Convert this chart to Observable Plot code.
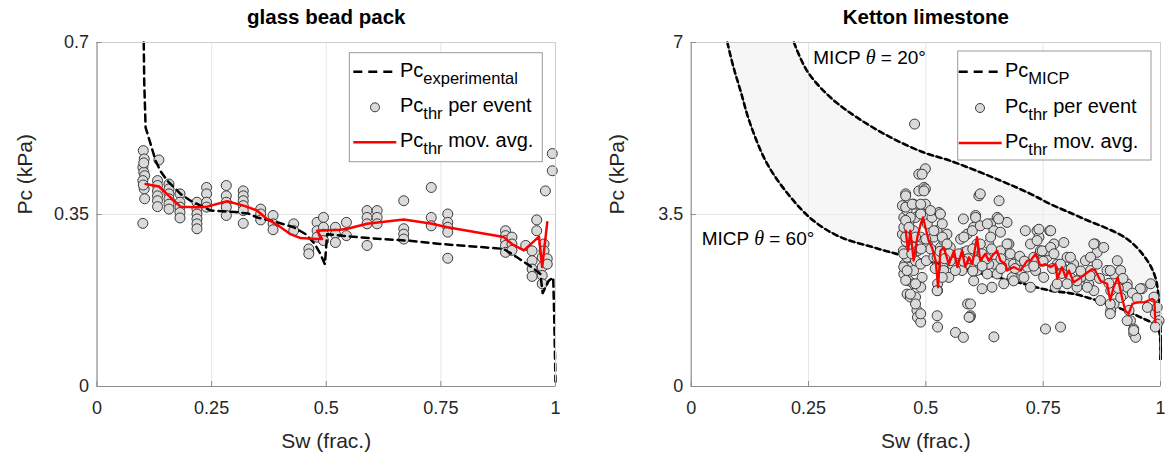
<!DOCTYPE html>
<html><head><meta charset="utf-8">
<script src="https://cdn.jsdelivr.net/npm/d3@7"></script>
<script src="https://cdn.jsdelivr.net/npm/@observablehq/plot@0.6"></script>
<style>
body{margin:0;background:#fff;width:1167px;height:459px;overflow:hidden}
#wrap{position:relative;width:1167px;height:459px}
#left{position:absolute;left:0;top:0}
#right{position:absolute;left:583px;top:0}
text{white-space:pre}
</style></head><body><div id="wrap"><div id="left"></div><div id="right"></div></div>
<script>
const FONT = "Liberation Sans, Arial, Helvetica, sans-serif";
const xTicks = [0, 0.25, 0.5, 0.75, 1];
const leftYTicks = [0, 0.35, 0.7];
const rightYTicks = [0, 3.5, 7];
const titles = ["glass bead pack", "Ketton limestone"];

// glass bead pack: experimental Pc curve
const expSw = [0.102,0.103,0.106,0.117,0.128,0.138,0.153,0.182,0.204,0.248,0.30,0.33,0.349,0.39,0.429,0.455,0.475,0.487,0.497,0.502,0.553,0.62,0.677,0.749,0.82,0.887,0.916,0.945,0.967,0.972,0.985,0.995,0.997,1.0];
const expPc = [0.70,0.62,0.527,0.493,0.459,0.439,0.419,0.392,0.378,0.358,0.355,0.352,0.344,0.335,0.324,0.310,0.29,0.27,0.249,0.31,0.305,0.300,0.297,0.290,0.285,0.280,0.263,0.245,0.229,0.19,0.215,0.222,0.15,0.01];
// glass bead pack: Pc_thr per event
const beadSw = [0.101,0.103,0.100,0.102,0.104,0.100,0.103,0.104,0.100,0.102,0.101,0.135,
 0.132,0.132,0.132,0.132,0.132,0.132, 0.157,0.157,0.157,0.157,0.157,0.157, 0.181,0.181,0.181,0.181,0.181,
 0.218,0.218,0.218,0.218,0.218,0.218, 0.239,0.239,0.239,0.239, 0.282,0.282,0.282,0.282,0.282,
 0.319,0.319,0.319,0.319,0.319,0.319, 0.357,0.357,0.357, 0.384,0.384,0.384, 0.429,0.429, 0.462,0.462,
 0.480,0.480,0.480, 0.494,0.494,0.494,0.494, 0.520,0.520,0.520, 0.544,0.544, 0.589,0.589,0.589,0.589,
 0.611,0.611,0.611, 0.669,0.669,0.669,0.669, 0.729,0.729,0.729, 0.765,0.765,0.765,0.765,0.765,
 0.891,0.891,0.891,0.891,0.891, 0.905,0.905,0.905, 0.935, 0.949,0.949,0.949,0.949, 0.959,0.959,
 0.971,0.971,0.971,0.971, 0.975,0.975, 0.982,0.982, 0.978, 0.993,0.993];
const beadPc = [0.480,0.463,0.446,0.436,0.429,0.419,0.402,0.382,0.332,0.455,0.410,0.461,
 0.419,0.409,0.398,0.388,0.378,0.366, 0.412,0.402,0.392,0.382,0.371,0.361, 0.392,0.375,0.365,0.354,0.343,
 0.375,0.361,0.351,0.341,0.331,0.321, 0.405,0.392,0.375,0.365, 0.409,0.388,0.375,0.365,0.348,
 0.398,0.388,0.378,0.368,0.358,0.332, 0.361,0.351,0.339, 0.348,0.331,0.319, 0.331,0.317, 0.280,0.270,
 0.334,0.317,0.304, 0.344,0.324,0.310,0.297, 0.324,0.310,0.293, 0.334,0.307, 0.358,0.344,0.331,0.287,
 0.358,0.344,0.331, 0.378,0.321,0.310,0.300, 0.405,0.344,0.327, 0.351,0.334,0.324,0.314,0.261,
 0.317,0.307,0.297,0.287,0.273, 0.304,0.290,0.277, 0.287, 0.276,0.256,0.239,0.224, 0.339,0.317,
 0.263,0.243,0.226,0.209, 0.290,0.276, 0.260,0.249, 0.398, 0.474,0.439];
// glass bead pack: moving average
const beadAvgSw = [0.106,0.135,0.157,0.182,0.218,0.240,0.284,0.320,0.349,0.371,0.393,0.422,0.444,0.477,0.491,0.480,0.531,0.546,0.589,0.669,0.731,0.764,0.887,0.906,0.931,0.964,0.971,0.982];
const beadAvgPc = [0.412,0.407,0.388,0.366,0.365,0.366,0.377,0.368,0.358,0.341,0.329,0.310,0.302,0.300,0.300,0.317,0.319,0.321,0.331,0.340,0.331,0.324,0.304,0.289,0.277,0.305,0.243,0.334];

// Ketton: MICP curves
const micp60Sw = [0.077,0.09,0.105,0.126,0.162,0.212,0.261,0.318,0.389,0.453,0.55,0.681,0.766,0.815,0.908,0.957,0.993,1.0,1.0];
const micp60Pc = [7.0,6.5,6.02,5.34,4.53,3.85,3.37,3.04,2.83,2.66,2.45,2.155,1.95,1.885,1.61,1.41,1.21,0.9,0.56];
const micp20Sw = [0.219,0.247,0.297,0.354,0.425,0.496,0.553,0.659,0.723,0.766,0.83,0.929,0.972,0.989,0.996,1.0,1.0];
const micp20Pc = [7.0,6.42,5.88,5.47,5.07,4.76,4.59,4.19,3.92,3.71,3.44,3.00,2.56,2.22,1.82,1.2,0.56];
// Ketton: Pc_thr per event [Sw, Pc]
const kettonEvents = [[0.450,3.68],[0.453,3.44],[0.450,3.10],[0.452,2.76],[0.455,2.49],[0.453,2.29],[0.457,3.92],[0.460,3.58],[0.464,3.34],[0.460,3.17],[0.464,2.90],[0.460,2.63],[0.467,2.43],[0.464,2.15],[0.460,1.88],[0.467,1.82],[0.474,3.71],[0.478,3.44],[0.474,3.17],[0.474,2.83],[0.478,2.56],[0.474,2.36],[0.474,2.09],[0.478,1.82],[0.481,1.55],[0.482,1.41],[0.476,5.34],[0.485,4.32],[0.499,4.43],[0.485,3.98],[0.496,4.05],[0.489,3.54],[0.489,3.04],[0.489,2.49],[0.492,2.22],[0.489,2.02],[0.489,1.31],[0.499,3.71],[0.503,3.31],[0.503,2.90],[0.501,2.56],[0.513,3.44],[0.517,3.04],[0.517,2.63],[0.525,2.09],[0.525,1.95],[0.524,1.44],[0.525,1.21],[0.528,3.54],[0.524,3.17],[0.531,2.83],[0.535,3.31],[0.538,2.97],[0.542,2.49],[0.538,2.36],[0.545,3.10],[0.552,2.83],[0.556,2.49],[0.549,2.22],[0.560,2.63],[0.580,3.41],[0.574,3.00],[0.588,3.10],[0.581,2.73],[0.584,2.49],[0.577,2.36],[0.589,1.68],[0.595,1.44],[0.594,1.41],[0.563,1.10],[0.580,1.00],[0.645,1.01],[0.606,3.48],[0.613,3.88],[0.616,3.92],[0.602,3.24],[0.609,2.90],[0.616,2.63],[0.609,2.36],[0.602,2.15],[0.638,3.31],[0.656,3.78],[0.652,3.44],[0.645,3.17],[0.634,2.90],[0.659,2.76],[0.645,2.49],[0.631,2.29],[0.641,2.02],[0.620,1.99],[0.673,3.34],[0.677,2.90],[0.670,2.49],[0.684,2.22],[0.695,2.56],[0.702,2.36],[0.709,2.22],[0.687,2.49],[0.712,3.17],[0.723,2.90],[0.737,3.17],[0.741,3.04],[0.730,2.63],[0.734,2.36],[0.723,2.02],[0.764,3.17],[0.773,2.90],[0.758,2.63],[0.780,2.49],[0.790,2.43],[0.776,2.02],[0.794,2.93],[0.755,1.17],[0.787,1.21],[0.801,2.63],[0.815,2.49],[0.808,2.22],[0.830,2.22],[0.822,2.02],[0.780,2.09],[0.840,2.56],[0.851,2.36],[0.861,2.90],[0.865,2.73],[0.847,2.09],[0.858,1.95],[0.872,1.75],[0.879,2.83],[0.886,2.36],[0.901,2.29],[0.908,2.56],[0.894,1.95],[0.901,1.68],[0.894,1.55],[0.915,2.36],[0.929,2.09],[0.922,1.88],[0.933,1.55],[0.936,1.34],[0.943,1.17],[0.943,1.07],[0.947,1.00],[0.961,1.99],[0.979,2.09],[0.986,1.82],[0.989,1.48],[0.997,1.34],[0.993,1.27],[0.972,1.61],
[0.457,3.65],[0.467,3.44],[0.453,3.24],[0.478,3.04],[0.458,2.95],[0.482,2.76],[0.453,2.43],[0.478,2.09],[0.478,1.68],[0.489,1.48],[0.492,4.32],[0.499,4.02],[0.489,3.51],[0.510,3.58],[0.531,3.51],[0.517,3.17],[0.535,3.04],[0.545,2.90],[0.524,2.63],[0.552,2.56],[0.563,2.36],[0.535,2.22],[0.524,1.95],[0.581,3.04],[0.606,3.44],[0.599,3.17],[0.616,3.27],[0.588,2.76],[0.616,2.90],[0.631,3.31],[0.638,3.04],[0.655,3.41],[0.659,3.14],[0.673,2.90],[0.609,2.56],[0.634,2.49],[0.652,2.29],[0.666,2.09],[0.687,2.15],[0.702,2.56],[0.716,2.43],[0.741,3.20],[0.744,2.76],[0.758,2.76],[0.751,2.22],[0.595,1.68],[0.592,1.41],
[0.766,3.17],[0.737,2.97],[0.748,2.76],[0.766,2.83],[0.773,2.70],[0.808,2.63],[0.787,2.49],[0.801,2.09],[0.822,2.15],[0.844,2.02],[0.858,2.90],[0.851,2.63],[0.865,2.49],[0.893,2.36],[0.893,1.68],[0.893,1.48],[0.929,1.34],[0.943,1.14],[0.957,1.99],[0.993,1.61],[0.989,1.21],[0.929,2.02],[0.915,1.81],
[0.496,3.98],[0.457,3.88],[0.471,3.71],[0.489,3.71],[0.457,3.38],[0.464,3.24],[0.457,3.04],[0.453,2.70],[0.460,2.36],[0.457,2.16],[0.467,1.88],
[0.57,2.70],[0.59,2.60],[0.60,2.80],[0.62,2.70],[0.63,2.60],[0.64,2.80],[0.66,2.60],[0.68,2.70],[0.69,2.40],[0.70,2.65],[0.71,2.55],[0.73,2.45],[0.75,2.55],[0.77,2.40],[0.79,2.30],[0.81,2.40],[0.83,2.35],[0.85,2.25],[0.87,2.20],[0.89,2.10],[0.91,2.00],[0.92,2.20],[0.94,1.90],[0.95,1.80],[0.55,2.70],[0.53,2.75],[0.51,2.80],[0.50,3.00],[0.49,2.80],[0.47,2.70],[0.58,2.55],[0.62,2.45],[0.66,2.40],[0.60,2.35],[0.54,2.60],[0.52,2.40]];
// Ketton: moving average
const kettonAvgSw = [0.457,0.462,0.467,0.474,0.482,0.489,0.494,0.499,0.506,0.513,0.521,0.526,0.531,0.538,0.549,0.560,0.567,0.577,0.584,0.592,0.599,0.609,0.616,0.627,0.634,0.645,0.652,0.659,0.670,0.673,0.687,0.702,0.716,0.723,0.734,0.744,0.755,0.766,0.776,0.780,0.790,0.798,0.805,0.815,0.826,0.840,0.854,0.861,0.872,0.886,0.893,0.900,0.909,0.918,0.925,0.932,0.940,0.950,0.964,0.982,0.987,0.989];
const kettonAvgPc = [3.17,2.76,3.17,2.56,3.04,3.31,3.44,3.24,2.97,2.83,2.56,2.02,2.76,2.83,2.49,2.76,2.43,2.76,2.43,2.63,2.49,3.04,2.56,2.70,2.56,2.70,2.76,2.56,2.49,2.36,2.43,2.36,2.56,2.56,2.70,2.46,2.49,2.43,2.49,2.19,2.43,2.22,2.36,2.12,2.19,2.29,2.39,2.36,2.15,2.09,1.75,2.02,2.22,1.81,1.54,1.48,1.68,1.71,1.71,1.78,1.75,1.31];

const zip = (a, b) => a.map((v, i) => ({sw: v, pc: b[i]}));
const GRID = "#e6e6e6", BOX = "#cfcfcf", AXIS = "#8c8c8c", TXT = "#262626";
const DOT = {r: 5, fill: "#dadada", stroke: "#3a3a3a", strokeWidth: 1};
const SMOOTH = "catmull-rom";

function baseMarks(yTicks, gridY, title) {
  return {
    under: [
      Plot.gridX(xTicks.slice(1, -1), {stroke: GRID, strokeOpacity: 1}),
      Plot.gridY(gridY, {stroke: GRID, strokeOpacity: 1})
    ],
    over: [
      Plot.frame({stroke: BOX}),
      Plot.ruleX([0], {stroke: AXIS}),
      Plot.ruleY([0], {stroke: AXIS}),
      Plot.ruleX(xTicks, {x: d => d, y1: 0, y2: 0, insetTop: -5, stroke: AXIS}),
      Plot.ruleY(yTicks, {y: d => d, x1: 0, x2: 0, insetRight: -5, stroke: AXIS}),
      Plot.axisX(xTicks, {tickSize: 0, tickPadding: 15, fontSize: 18, label: null, tickFormat: d => String(d), fill: TXT}),
      Plot.axisY(yTicks, {tickSize: 0, tickPadding: 8, fontSize: 18, label: null, tickFormat: d => String(d), fill: TXT}),
      Plot.text([title], {frameAnchor: "top", dy: -25, lineAnchor: "middle", fontSize: 20.5, fontWeight: "bold", fill: "#000"}),
      Plot.text(["Sw (frac.)"], {frameAnchor: "bottom", dy: 55, lineAnchor: "middle", fontSize: 21, fill: TXT}),
    ]
  };
}

// ---------- left panel ----------
const lb = baseMarks(leftYTicks, [0.35], titles[0]);
const left = Plot.plot({
  width: 583, height: 459, marginLeft: 96.5, marginRight: 28, marginTop: 42, marginBottom: 73,
  x: {domain: [0, 1]}, y: {domain: [0, 0.7]},
  style: {fontFamily: FONT, color: TXT, background: "white"},
  marks: [
    ...lb.under,
    Plot.dot(zip(beadSw, beadPc), {x: "sw", y: "pc", ...DOT}),
    Plot.line(zip(expSw, expPc), {x: "sw", y: "pc", stroke: "#000", strokeWidth: 2.5, strokeDasharray: "7,5"}),
    Plot.line(zip(beadAvgSw, beadAvgPc), {x: "sw", y: "pc", stroke: "#ff0000", strokeWidth: 2.5}),
    ...lb.over,
    Plot.text(["Pc (kPa)"], {frameAnchor: "left", dx: -71.5, rotate: -90, fontSize: 21, fill: TXT})
  ]
});
document.getElementById("left").append(left);

// ---------- right panel ----------
const band = zip(micp20Sw, micp20Pc).concat(zip(micp60Sw, micp60Pc).reverse());
const rb = baseMarks(rightYTicks, [3.5], titles[1]);
const right = Plot.plot({
  width: 584, height: 459, marginLeft: 107.7, marginRight: 7, marginTop: 42, marginBottom: 73,
  x: {domain: [0, 1]}, y: {domain: [0, 7]},
  style: {fontFamily: FONT, color: TXT, background: "white"},
  marks: [
    ...rb.under,
    Plot.line(band, {x: "sw", y: "pc", curve: SMOOTH, fill: "#eeeeee", fillOpacity: 0.55, stroke: "none"}),
    Plot.line(zip(micp20Sw, micp20Pc), {x: "sw", y: "pc", curve: SMOOTH, stroke: "#555", strokeWidth: 1}),
    Plot.line(zip(micp60Sw, micp60Pc), {x: "sw", y: "pc", curve: SMOOTH, stroke: "#555", strokeWidth: 1}),
    Plot.line(zip(micp20Sw, micp20Pc), {x: "sw", y: "pc", curve: SMOOTH, stroke: "#000", strokeWidth: 2.6, strokeDasharray: "5,4"}),
    Plot.line(zip(micp60Sw, micp60Pc), {x: "sw", y: "pc", curve: SMOOTH, stroke: "#000", strokeWidth: 2.6, strokeDasharray: "5,4"}),
    Plot.dot(kettonEvents, {x: d => d[0], y: d => d[1], ...DOT}),
    Plot.line(zip(kettonAvgSw, kettonAvgPc), {x: "sw", y: "pc", stroke: "#ff0000", strokeWidth: 2.3}),
    ...rb.over,
    Plot.text(["Pc (kPa)"], {frameAnchor: "left", dx: -73.7, rotate: -90, fontSize: 21, fill: TXT})
  ]
});
document.getElementById("right").append(right);

// ---------- legends & annotations ----------
function pcText(g, x, y, sub, rest) {
  const t = g.append("text").attr("x", x).attr("y", y).attr("font-size", 20).attr("fill", "#000").attr("text-anchor", "start");
  t.append("tspan").text("Pc");
  t.append("tspan").attr("font-size", 16.5).attr("dy", 7).text(sub);
  if (rest) t.append("tspan").attr("dy", -7).text(rest);
}
function legend(svgNode, o) {
  const g = d3.select(svgNode).append("g").attr("text-anchor", "start");
  g.append("rect").attr("x", o.x).attr("y", o.y).attr("width", o.w).attr("height", o.h)
    .attr("fill", "#fff").attr("stroke", "#9a9a9a").attr("stroke-width", 1);
  const r = o.rows;
  g.append("line").attr("x1", o.x + o.s0).attr("x2", o.x + o.s0 + 40).attr("y1", o.y + r[0]).attr("y2", o.y + r[0])
    .attr("stroke", "#000").attr("stroke-width", 2.6).attr("stroke-dasharray", "9,6");
  g.append("circle").attr("cx", o.x + o.cx).attr("cy", o.y + r[1]).attr("r", 4.5)
    .attr("fill", "#dadada").attr("stroke", "#3a3a3a");
  g.append("line").attr("x1", o.x + o.s0).attr("x2", o.x + o.s0 + 43).attr("y1", o.y + r[2]).attr("y2", o.y + r[2])
    .attr("stroke", "#ff0000").attr("stroke-width", 2.6);
  pcText(g, o.x + o.tx, o.y + r[0] + 5.5, o.sub);
  pcText(g, o.x + o.tx, o.y + r[1] + 5, "thr", " per event");
  pcText(g, o.x + o.tx, o.y + r[2] + 5, "thr", " mov. avg.");
}
legend(left, {x: 349.3, y: 52.7, w: 193, h: 109, rows: [19, 54.6, 89.6], s0: 4, cx: 25.7, tx: 50.7, sub: "experimental"});
legend(right, {x: 374.7, y: 51, w: 193.3, h: 109, rows: [20.7, 57, 92], s0: 1, cx: 22.3, tx: 47.3, sub: "MICP"});

function micpLabel(svgNode, x, y, angle) {
  const t = d3.select(svgNode).append("text").attr("x", x).attr("y", y).attr("font-size", 19).attr("fill", "#000").attr("text-anchor", "start");
  t.append("tspan").text("MICP ");
  t.append("tspan").attr("font-family", "Liberation Serif, Times New Roman, serif").attr("font-style", "italic").attr("font-size", 20).text("θ");
  t.append("tspan").text(" = " + angle + "°");
}
micpLabel(right, 813.3 - 583, 64, 20);
micpLabel(right, 701.7 - 583, 245, 60);
</script></body></html>
